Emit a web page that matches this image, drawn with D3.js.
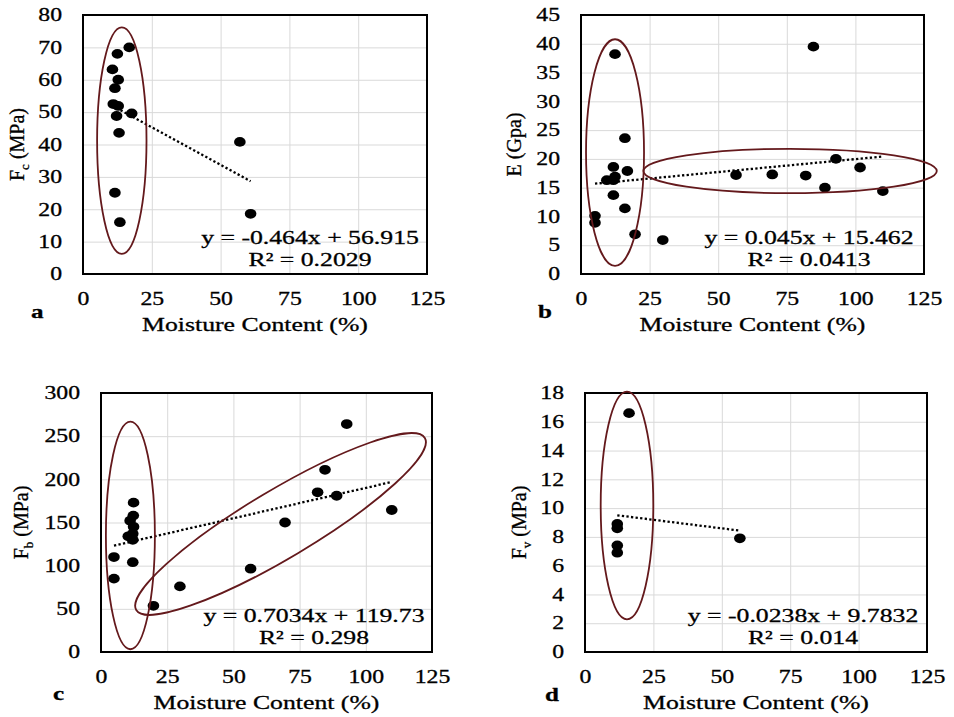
<!DOCTYPE html>
<html>
<head>
<meta charset="utf-8">
<script src="https://cdn.jsdelivr.net/npm/d3@7"></script>
<style>
  body { margin: 0; background: #fff; }
  svg text { font-family: "Liberation Serif", "Times New Roman", serif; fill: #000; stroke: #000; stroke-width: 0.3px; }
  .grid line { stroke: #d9d9d9; stroke-width: 1; }
  .grid path { display: none; }
</style>
</head>
<body>
<svg id="chart" width="954" height="717"></svg>
<script>
const xTicks = [0, 25, 50, 75, 100, 125];

// a: compressive strength
const mcA = [16.8, 12.5, 10.7, 12.8, 11.6, 11, 12.8, 17.7, 12.2, 13.1, 57, 11.6, 13.4, 60.9];
const fcA = [70, 68, 63.2, 60, 57.4, 52.5, 51.9, 49.6, 48.8, 43.6, 40.8, 25.1, 16, 18.6];
const yTicksA = [0, 10, 20, 30, 40, 50, 60, 70, 80];
const trendA = [-0.464, 56.915];
const eqA = ['y = -0.464x + 56.915', 'R² = 0.2029'];

// b: modulus
const mcB = [12.4, 84.7, 16, 11.8, 16.9, 9.4, 11.8, 12.4, 11.8, 16, 5.1, 5.1, 19.7, 29.8, 56.5, 69.7, 81.9, 88.9, 92.9, 101.7, 110];
const eB = [38.2, 39.5, 23.6, 18.6, 17.9, 16.3, 16.3, 16.9, 13.7, 11.4, 10.1, 8.9, 6.9, 5.9, 17.2, 17.3, 17.1, 15, 20, 18.5, 14.4];
const yTicksB = [0, 5, 10, 15, 20, 25, 30, 35, 40, 45];
const trendB = [0.045, 15.462];
const eqB = ['y = 0.045x + 15.462', 'R² = 0.0413'];

// c: bending strength
const mcC = [12.3, 12.2, 11, 12.3, 12, 10.3, 12, 12, 4.9, 4.9, 19.8, 29.8, 56.5, 69.5, 81.8, 84.6, 89, 92.8, 109.8];
const fbC = [173, 158, 152, 145, 137, 134, 130, 104, 110, 85, 53.5, 76, 96.5, 150, 185, 211, 181, 264, 164.5];
const yTicksC = [0, 50, 100, 150, 200, 250, 300];
const trendC = [0.7034, 119.73];
const eqC = ['y = 0.7034x + 119.73', 'R² = 0.298'];

// d: shear strength
const mcD = [16.1, 11.8, 11.8, 11.8, 11.8, 56.6];
const fvD = [16.6, 8.9, 8.6, 7.4, 6.9, 7.9];
const yTicksD = [0, 2, 4, 6, 8, 10, 12, 14, 16, 18];
const trendD = [-0.0238, 9.7832];
const eqD = ['y = -0.0238x + 9.7832', 'R² = 0.014'];

const S = 1.32; // the source picture is stretched sideways
const ringColor = '#64191c';

const panels = [
  { letter: 'a', left: 83, top: 15, w: 344, h: 259, xs: mcA, ys: fcA, yTicks: yTicksA, trend: trendA, eq: eqA,
    eqDx: 117, titleX: 24, title: [['F', 0], ['c', 1], [' (MPa)', 0]], letterPos: [31, 318],
    rings: [{ cx: 14.1, cy: 41.2, rx: 24.7, ry: 113.3, a: 0 }] },
  { letter: 'b', left: 581, top: 15, w: 343, h: 259, xs: mcB, ys: eB, yTicks: yTicksB, trend: trendB, eq: eqB,
    eqDx: 115, titleX: 521, title: [['E (Gpa)', 0]], letterPos: [538, 318],
    rings: [{ cx: 12.4, cy: 21.1, rx: 29, ry: 113.3, a: 0 }, { cx: 76.2, cy: 17.9, rx: 146.7, ry: 22.2, a: 0 }] },
  { letter: 'c', left: 101, top: 393, w: 331, h: 259, xs: mcC, ys: fbC, yTicks: yTicksC, trend: trendC, eq: eqC,
    eqDx: 118, titleX: 28, title: [['F', 0], ['b', 1], [' (MPa)', 0]], letterPos: [53, 700],
    rings: [{ cx: 11.1, cy: 135, rx: 24.5, ry: 113.8, a: 0 }, { cx: 67.8, cy: 148.3, rx: 168, ry: 34, a: -30.8 }] },
  { letter: 'd', left: 585, top: 393, w: 342, h: 259, xs: mcD, ys: fvD, yTicks: yTicksD, trend: trendD, eq: eqD,
    eqDx: 124, titleX: 526, title: [['F', 0], ['v', 1], [' (MPa)', 0]], letterPos: [545, 701],
    rings: [{ cx: 15.35, cy: 10.18, rx: 26.3, ry: 113.8, a: 0 }] }
];

const svg = d3.select('#chart');

function stretch(sel) {
  sel.each(function() {
    const t = d3.select(this);
    const x = +t.attr('x') || 0;
    const y = +t.attr('y') || 0;
    t.attr('x', null).attr('y', null)
      .attr('transform', `translate(${x},${y}) scale(${S},1)`);
  });
}

function drawPanel(p) {
  const g = svg.append('g').attr('transform', `translate(${p.left},${p.top})`);
  const x = d3.scaleLinear().domain([0, 125]).range([0, p.w]);
  const y = d3.scaleLinear().domain([0, d3.max(p.yTicks)]).range([p.h, 0]);

  g.append('g').attr('class', 'grid')
    .call(d3.axisLeft(y).tickValues(p.yTicks).tickSize(-p.w).tickFormat(''));
  g.append('g').attr('class', 'grid')
    .attr('transform', `translate(0,${p.h})`)
    .call(d3.axisBottom(x).tickValues(xTicks).tickSize(-p.h).tickFormat(''));

  g.append('rect')
    .attr('width', p.w).attr('height', p.h)
    .attr('fill', 'none').attr('stroke', '#000').attr('stroke-width', 2);

  const yAxis = g.append('g')
    .call(d3.axisLeft(y).tickValues(p.yTicks).tickSize(0).tickPadding(21));
  const xAxis = g.append('g')
    .attr('transform', `translate(0,${p.h})`)
    .call(d3.axisBottom(x).tickValues(xTicks).tickSize(0).tickPadding(18));
  [yAxis, xAxis].forEach(a => {
    a.select('.domain').remove();
    a.attr('font-family', null).attr('font-size', 18);
    stretch(a.selectAll('text'));
  });

  // trendline over the range of the points
  const ext = d3.extent(p.xs);
  const line = d3.line().x(d => x(d)).y(d => y(p.trend[0] * d + p.trend[1]));
  g.append('path')
    .attr('d', line(ext))
    .attr('fill', 'none').attr('stroke', '#000')
    .attr('stroke-width', 2.3).attr('stroke-dasharray', '2.3,2.3');

  g.selectAll('.pt')
    .data(p.xs.map((v, i) => [v, p.ys[i]]))
    .enter()
    .append('ellipse')
    .attr('cx', d => x(d[0]))
    .attr('cy', d => y(d[1]))
    .attr('rx', 5.8).attr('ry', 4.9)
    .attr('fill', '#000');

  g.selectAll('.ring')
    .data(p.rings)
    .enter()
    .append('ellipse')
    .attr('transform', d => `translate(${x(d.cx)},${y(d.cy)}) rotate(${d.a})`)
    .attr('rx', d => d.rx).attr('ry', d => d.ry)
    .attr('fill', 'none').attr('stroke', ringColor).attr('stroke-width', 1.8);

  // equation text
  const eq = g.selectAll('.eq')
    .data(p.eq)
    .enter()
    .append('text')
    .attr('x', p.w - p.eqDx)
    .attr('y', (d, i) => p.h - 30 + i * 21.5)
    .attr('text-anchor', 'middle')
    .attr('font-size', 19.5)
    .text(d => d);
  stretch(eq);

  // x title
  const xt = svg.append('text')
    .attr('x', p.left + p.w / 2)
    .attr('y', p.top + p.h + 57)
    .attr('text-anchor', 'middle')
    .attr('font-size', 19.5)
    .text('Moisture Content (%)');
  stretch(xt);

  // y title
  const yt = svg.append('text')
    .attr('transform', `translate(${p.titleX},${p.top + p.h / 2}) rotate(-90)`)
    .attr('text-anchor', 'middle')
    .attr('font-size', 20);
  p.title.forEach((part, i) => {
    const ts = yt.append('tspan').text(part[0]);
    if (part[1]) ts.attr('font-size', 13).attr('dy', 5);
    else if (i > 0 && p.title[i - 1][1]) ts.attr('dy', -5);
  });

  const lt = svg.append('text')
    .attr('x', p.letterPos[0]).attr('y', p.letterPos[1])
    .attr('font-size', 19).attr('font-weight', 'bold')
    .text(p.letter);
  stretch(lt);
}

panels.forEach(drawPanel);
</script>
</body>
</html>
